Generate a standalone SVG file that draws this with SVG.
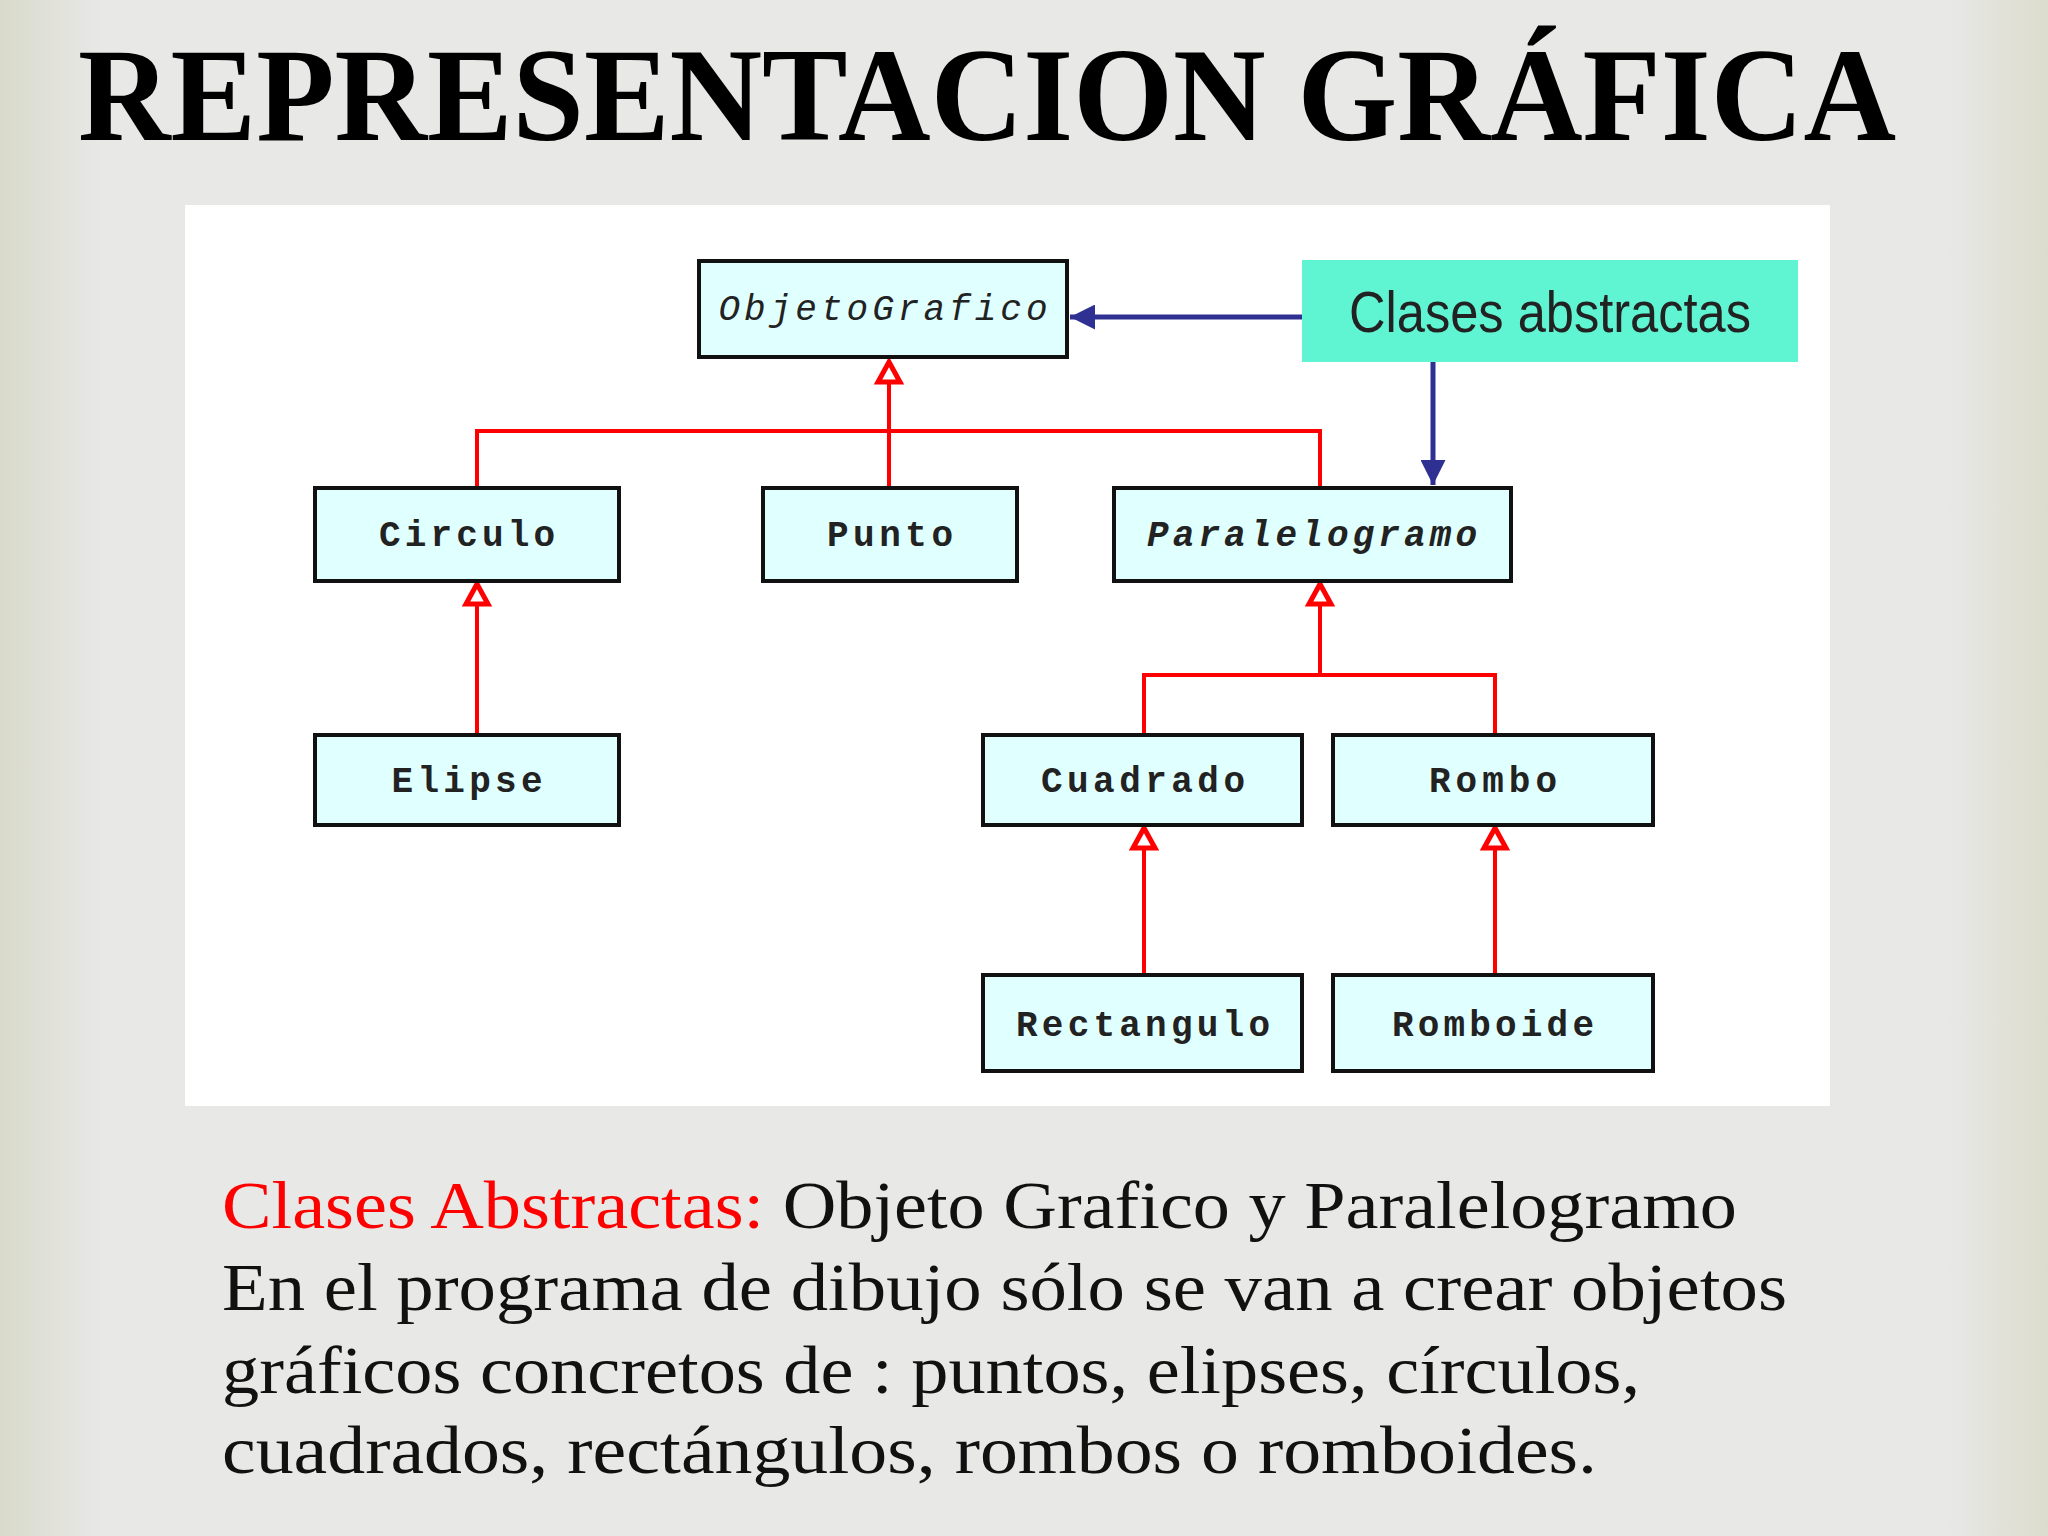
<svg xmlns="http://www.w3.org/2000/svg" width="2048" height="1536" viewBox="0 0 2048 1536">
<defs>
<linearGradient id="bg" x1="0" x2="1" y1="0" y2="0">
<stop offset="0" stop-color="#d9dacb"/><stop offset="0.05" stop-color="#e8e8e7"/><stop offset="0.95" stop-color="#e8e8e7"/><stop offset="1" stop-color="#dcdccd"/>
</linearGradient>
<marker id="blue" viewBox="0 0 10 10" refX="10" refY="5" markerWidth="5" markerHeight="5" orient="auto"><path d="M0,0 L10,5 L0,10 z" fill="#2e3192"/></marker>
</defs>
<style>
.box{fill:#e0ffff;stroke:#111;stroke-width:4}
.lbl{font-family:"Liberation Mono",monospace;font-weight:bold;font-size:36px;fill:#222;text-anchor:middle}
.red{stroke:#ff0000;stroke-width:4;fill:none}
.tri{fill:#fff;stroke:#ff0000;stroke-width:5}
.blue{stroke:#2e3192;stroke-width:5;fill:none}
.body{font-family:"Liberation Serif",serif;font-size:68px;fill:#111}
</style>
<rect width="2048" height="1536" fill="url(#bg)"/>
<text x="78" y="140" font-family="Liberation Serif,serif" font-weight="bold" font-size="134" textLength="1818" lengthAdjust="spacingAndGlyphs" fill="#000">REPRESENTACION GRÁFICA</text>
<rect x="185" y="205" width="1645" height="901" fill="#fff"/>
<g id="connectors">
<polyline class="red" points="477,486 477,431 1320,431 1320,486"/>
<line class="red" x1="889" y1="380" x2="889" y2="486"/>
<polygon class="tri" points="889,362 878,382 900,382"/>
<line class="red" x1="477" y1="604" x2="477" y2="733"/>
<polygon class="tri" points="477,584 466,604 488,604"/>
<line class="red" x1="1320" y1="604" x2="1320" y2="675" stroke-width="6"/>
<polyline class="red" points="1144,733 1144,675 1495,675 1495,733"/>
<polygon class="tri" points="1320,584 1309,604 1331,604"/>
<line class="red" x1="1144" y1="848" x2="1144" y2="973" stroke-width="6"/>
<polygon class="tri" points="1144,828 1133,848 1155,848"/>
<line class="red" x1="1495" y1="848" x2="1495" y2="973" stroke-width="6"/>
<polygon class="tri" points="1495,828 1484,848 1506,848"/>
<line class="blue" x1="1302" y1="317" x2="1070" y2="317" marker-end="url(#blue)"/>
<line class="blue" x1="1433" y1="362" x2="1433" y2="485" marker-end="url(#blue)"/>
</g>
<g id="ObjetoGrafico"><rect class="box" x="699" y="261" width="368" height="96"/><text class="lbl" x="883" y="320" style="font-style:italic;font-weight:normal" textLength="329" lengthAdjust="spacing">ObjetoGrafico</text></g>
<g id="ClasesAbstractas"><rect x="1302" y="260" width="496" height="102" fill="#5ff5d3"/><text x="1550" y="332" font-family="Liberation Sans Narrow,Liberation Sans,sans-serif" font-size="58" text-anchor="middle" textLength="402" lengthAdjust="spacingAndGlyphs" fill="#222">Clases abstractas</text></g>
<g id="Circulo"><rect class="box" x="315" y="488" width="304" height="93"/><text class="lbl" x="467" y="546" textLength="176">Circulo</text></g>
<g id="Punto"><rect class="box" x="763" y="488" width="254" height="93"/><text class="lbl" x="890" y="546" textLength="126">Punto</text></g>
<g id="Paralelogramo"><rect class="box" x="1114" y="488" width="397" height="93"/><text class="lbl" x="1312" y="546" font-style="italic" textLength="330">Paralelogramo</text></g>
<g id="Elipse"><rect class="box" x="315" y="735" width="304" height="90"/><text class="lbl" x="467" y="792" textLength="151">Elipse</text></g>
<g id="Cuadrado"><rect class="box" x="983" y="735" width="319" height="90"/><text class="lbl" x="1143" y="792" textLength="204">Cuadrado</text></g>
<g id="Rombo"><rect class="box" x="1333" y="735" width="320" height="90"/><text class="lbl" x="1493" y="792" textLength="128">Rombo</text></g>
<g id="Rectangulo"><rect class="box" x="983" y="975" width="319" height="96"/><text class="lbl" x="1143" y="1036" textLength="254">Rectangulo</text></g>
<g id="Romboide"><rect class="box" x="1333" y="975" width="320" height="96"/><text class="lbl" x="1493" y="1036" textLength="202">Romboide</text></g>
<text class="body" x="222" y="1228" textLength="1515" lengthAdjust="spacingAndGlyphs"><tspan fill="#ff0000">Clases Abstractas:</tspan> Objeto Grafico y Paralelogramo</text>
<text class="body" x="222" y="1310" textLength="1565" lengthAdjust="spacingAndGlyphs">En el programa de dibujo sólo se van a crear objetos</text>
<text class="body" x="222" y="1393" textLength="1418" lengthAdjust="spacingAndGlyphs">gráficos concretos de : puntos, elipses, círculos,</text>
<text class="body" x="222" y="1473" textLength="1375" lengthAdjust="spacingAndGlyphs">cuadrados, rectángulos, rombos o romboides.</text>
</svg>
